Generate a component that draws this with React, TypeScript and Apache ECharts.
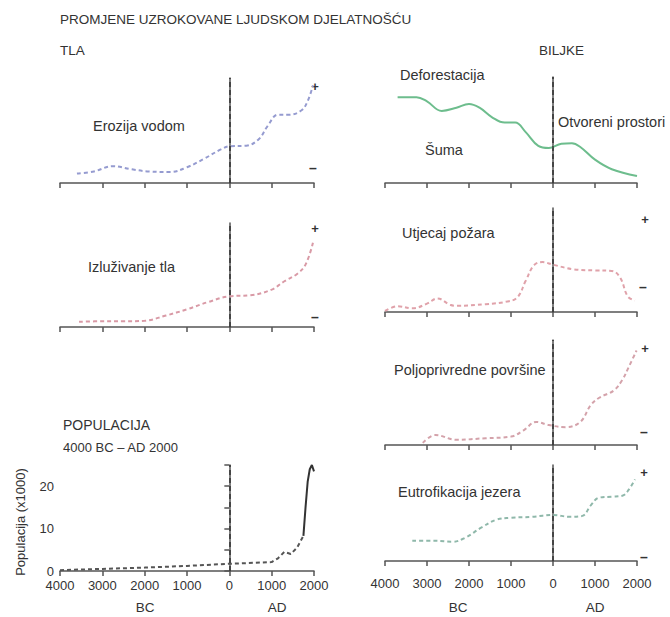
import React, { useEffect, useRef } from "react";
import * as echarts from "echarts";

// ---- data (year, relative value) ----
const erosionData: [number, number][] = [
  [-3600, 9], [-3200, 11], [-2750, 16], [-2300, 13], [-1900, 11], [-1400, 10.5],
  [-1000, 15], [-600, 23], [-200, 32], [0, 35], [400, 35.5], [700, 42], [900, 54],
  [1150, 65], [1400, 65], [1700, 69], [1850, 78], [1975, 93],
];
const leachingData: [number, number][] = [
  [-3550, 5], [-3000, 5.5], [-2500, 5.5], [-2000, 6], [-1500, 11], [-1000, 17],
  [-500, 24], [0, 29.5], [500, 30.5], [1000, 36], [1300, 44], [1600, 51], [1800, 60], [1975, 81],
];
const deforestData: [number, number][] = [
  [-3700, 81], [-3250, 81], [-3000, 77], [-2650, 68], [-2300, 71], [-2000, 74.5],
  [-1750, 71], [-1450, 62], [-1150, 57], [-900, 57], [-650, 48], [-350, 35], [-100, 33],
  [200, 37], [450, 37.5], [650, 34], [1000, 22], [1400, 13], [2000, 6.6],
];
const fireData: [number, number][] = [
  [-4000, 1], [-3700, 5.5], [-3350, 3.5], [-3000, 8], [-2750, 13], [-2450, 7], [-2300, 6],
  [-1600, 7.5], [-1100, 10], [-850, 14], [-650, 30], [-450, 45], [-250, 48], [0, 45.5],
  [500, 41], [1000, 40], [1400, 39.5], [1600, 33], [1780, 15], [1950, 11],
];
const agriData: [number, number][] = [
  [-3100, 2], [-2800, 9.5], [-2300, 5], [-1600, 6.5], [-1000, 8], [-700, 14], [-400, 22],
  [-100, 19], [300, 17], [650, 22], [900, 38], [1100, 45], [1450, 52], [1650, 62],
  [1800, 74], [1990, 90],
];
const eutroData: [number, number][] = [
  [-3350, 21], [-2800, 21], [-2400, 20], [-2100, 24], [-1700, 35], [-1350, 43], [-1000, 45],
  [-500, 46], [0, 48], [400, 46], [700, 47], [900, 58], [1100, 66], [1400, 67], [1650, 68],
  [1800, 74], [1950, 85],
];
const popDashedData: [number, number][] = [
  [-4000, 0.2], [-3000, 0.5], [-2000, 0.8], [-1000, 1.2], [0, 1.7], [1000, 2.1],
  [1150, 3], [1300, 4.5], [1450, 4], [1600, 5.5], [1750, 8.3],
];
const popSolidData: [number, number][] = [
  [1750, 8.3], [1800, 15], [1850, 21], [1900, 24], [1950, 25], [2000, 23.5],
];

const FONT = "'Liberation Sans', Arial, sans-serif";
const TXT = "#333";
const AXIS = "#555";

export default function App() {
  const ref = useRef<HTMLDivElement>(null);
  useEffect(() => {
    if (!ref.current) return;
    const chart = echarts.init(ref.current, undefined, { renderer: "svg" });

    const grids = [
      { left: 60, top: 78, width: 254, height: 105 },   // 0 erosion
      { left: 60, top: 223, width: 254, height: 104 },  // 1 leaching
      { left: 60, top: 465, width: 254, height: 106 },  // 2 population
      { left: 385, top: 77, width: 252, height: 106 },  // 3 deforestation
      { left: 385, top: 208, width: 252, height: 104 }, // 4 fire
      { left: 385, top: 340, width: 252, height: 105 }, // 5 agriculture
      { left: 385, top: 465, width: 252, height: 96 },  // 6 eutrophication
    ];

    const xAxes = grids.map((_, i) => ({
      type: "value",
      gridIndex: i,
      min: -4000,
      max: 2000,
      interval: 1000,
      axisLine: { show: true, onZero: false, lineStyle: { color: AXIS, width: 1.5 } },
      axisTick: { show: true, inside: false, length: 5, lineStyle: { color: AXIS, width: 1.5 } },
      axisLabel: {
        show: i === 2 || i === 6,
        margin: i === 2 ? 8 : 16,
        fontSize: 13,
        lineHeight: 13,
        fontFamily: FONT,
        color: TXT,
        formatter: (v: number) => String(Math.abs(v)),
      },
      splitLine: { show: false },
    }));

    const yAxes = grids.map((_, i) => ({
      type: "value",
      gridIndex: i,
      min: 0,
      max: i === 2 ? 25 : 100,
      interval: i === 2 ? 5 : 100,
      axisLine: { show: true, lineStyle: { color: AXIS, width: 1.5 } },
      axisTick: { show: i === 2, length: 5, lineStyle: { color: AXIS, width: 1.5 } },
      axisLabel: {
        show: i === 2,
        margin: 6,
        fontSize: 13,
        lineHeight: 12,
        fontFamily: FONT,
        color: TXT,
        formatter: (v: number) => (v % 10 === 0 ? String(v) : ""),
      },
      splitLine: { show: false },
    }));

    const zeroLine = {
      silent: true,
      symbol: "none",
      label: { show: false },
      lineStyle: { color: "#333", type: [5, 3], width: 1.5 },
      data: [{ xAxis: 0 }],
    };

    const mk = (i: number, data: [number, number][], color: string, dashed: boolean, smooth: any, withZero = true) => ({
      type: "line",
      xAxisIndex: i,
      yAxisIndex: i,
      data,
      showSymbol: false,
      smooth,
      lineStyle: { color, width: 2, type: dashed ? [4, 3] : "solid" },
      markLine: withZero ? zeroLine : undefined,
    });

    const series = [
      mk(0, erosionData, "#959bd0", true, 0.4),
      mk(1, leachingData, "#d99aa6", true, 0.4),
      mk(2, popDashedData, "#555", true, false),
      mk(2, popSolidData, "#333", false, false, false),
      mk(3, deforestData, "#6dbd8d", false, 0.4),
      mk(4, fireData, "#e0a2aa", true, 0.4),
      mk(5, agriData, "#d4a2aa", true, 0.4),
      mk(6, eutroData, "#8fb8aa", true, 0.4),
    ];

    const t = (text: string, x: number, y: number, fontSize = 14.5, extra: any = {}) => ({
      type: "text",
      x,
      y,
      ...extra,
      style: {
        text,
        fontSize,
        fontFamily: FONT,
        fill: TXT,
        verticalAlign: "middle",
        align: "left",
        ...(extra.style || {}),
      },
    });
    const sign = (s: string, x: number, y: number) => ({
      type: "text",
      x,
      y,
      style: {
        text: s,
        fontSize: s === "+" ? 13 : 14,
        fontWeight: "bold",
        fontFamily: FONT,
        fill: "#333",
        align: "center",
        verticalAlign: "middle",
      },
    });

    const graphic = [
      t("PROMJENE UZROKOVANE LJUDSKOM DJELATNOŠĆU", 60, 19, 13.5),
      t("TLA", 60, 50, 13.5),
      t("BILJKE", 539, 50, 13.5),
      t("Erozija vodom", 93, 126),
      t("Izluživanje tla", 88, 267),
      t("Deforestacija", 400, 75),
      t("Otvoreni prostori", 558, 122),
      t("Šuma", 425, 150),
      t("Utjecaj požara", 402, 233),
      t("Poljoprivredne površine", 394, 370),
      t("Eutrofikacija jezera", 398, 492),
      t("POPULACIJA", 63, 425, 14),
      t("4000 BC – AD 2000", 63, 447, 13),
      {
        type: "text",
        x: 20,
        y: 522,
        rotation: Math.PI / 2,
        style: {
          text: "Populacija (x1000)",
          fontSize: 13,
          fontFamily: FONT,
          fill: TXT,
          align: "center",
          verticalAlign: "middle",
        },
      },
      t("BC", 145, 607, 13.5, { style: { align: "center" } }),
      t("AD", 277, 607, 13.5, { style: { align: "center" } }),
      t("BC", 458, 607, 13.5, { style: { align: "center" } }),
      t("AD", 595, 607, 13.5, { style: { align: "center" } }),
      sign("+", 315, 86),
      sign("–", 313, 168),
      sign("+", 315, 228),
      sign("–", 315, 317),
      sign("+", 645, 219),
      sign("–", 643, 287),
      sign("+", 645, 348),
      sign("–", 644, 432),
      sign("+", 644, 472),
      sign("–", 644, 557),
    ];

    chart.setOption({
      animation: false,
      backgroundColor: "#fff",
      grid: grids.map((g) => ({ ...g, containLabel: false })),
      xAxis: xAxes,
      yAxis: yAxes,
      series,
      graphic,
    } as any);

    return () => chart.dispose();
  }, []);

  return (
    <div
      ref={ref}
      style={{ position: "absolute", left: 0, top: 0, width: 670, height: 617 }}
    />
  );
}
